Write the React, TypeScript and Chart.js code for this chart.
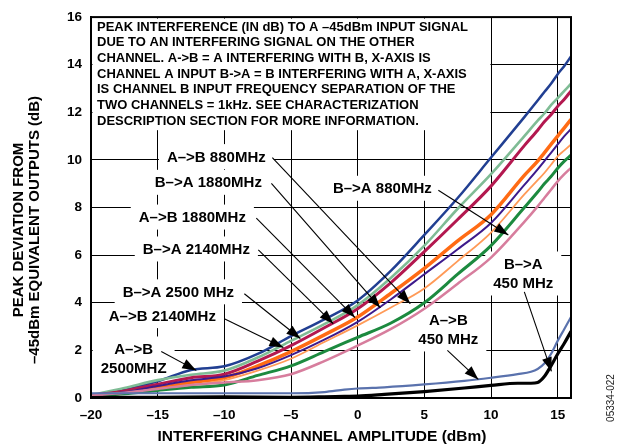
import { useEffect, useRef } from 'react';
import { Chart, registerables } from 'chart.js';

Chart.register(...registerables);

// ---------- data ----------
const amplitudes = [-20, -17.5, -15, -12.5, -10, -7.5, -5, -2.5, 0, 2.5, 5, 7.5, 10, 12.5, 13.5, 14, 14.5, 15, 15.5, 16];

const aToB2500 = [0.1, 0.35, 0.7, 1.18, 1.33, 1.85, 2.6, 3.3, 4.1, 5.35, 6.85, 8.4, 10.1, 11.8, 12.5, 12.85, 13.2, 13.6, 13.95, 14.35];
const bToA2500 = [0.12, 0.42, 0.75, 0.98, 1.15, 1.7, 2.4, 3.1, 3.9, 5.05, 6.4, 7.95, 9.4, 11.0, 11.65, 11.95, 12.3, 12.6, 12.9, 13.2];
const aToB2140 = [0.1, 0.3, 0.58, 0.85, 1.0, 1.55, 2.2, 2.95, 3.75, 4.85, 6.15, 7.5, 8.9, 10.6, 11.25, 11.6, 11.9, 12.25, 12.55, 12.9];
const bToA2140 = [0.08, 0.22, 0.42, 0.65, 0.85, 1.35, 1.95, 2.65, 3.4, 4.4, 5.45, 6.6, 7.7, 9.35, 9.95, 10.3, 10.65, 11.0, 11.35, 11.7];
const aToB1880 = [0.1, 0.25, 0.5, 0.75, 0.9, 1.25, 1.8, 2.45, 3.2, 4.15, 5.2, 6.25, 7.35, 8.95, 9.6, 9.95, 10.3, 10.65, 11.0, 11.3];
const aToB880 = [0.08, 0.2, 0.38, 0.55, 0.75, 1.15, 1.65, 2.35, 3.05, 3.8, 4.6, 5.75, 6.95, 8.55, 9.15, 9.45, 9.8, 10.15, 10.4, 10.65];
const bToA1880 = [0.08, 0.18, 0.32, 0.45, 0.55, 0.95, 1.35, 1.95, 2.55, 3.15, 4.0, 5.2, 6.4, 8.0, 8.65, 9.0, 9.3, 9.65, 9.95, 10.2];
const bToA880 = [0.1, 0.22, 0.38, 0.55, 0.65, 0.75, 1.0, 1.55, 2.2, 2.9, 3.75, 4.8, 5.9, 7.4, 8.05, 8.4, 8.75, 9.1, 9.4, 9.67];

const amplitudes450 = [-20, -15, -10, -5, -2.5, -1, 0, 2, 5, 8, 10, 12, 13, 13.5, 14, 14.5, 15, 15.5, 16];
const bToA450 = [0.2, 0.2, 0.2, 0.2, 0.25, 0.35, 0.4, 0.45, 0.57, 0.72, 0.85, 1.0, 1.1, 1.22, 1.45, 1.85, 2.4, 2.9, 3.4];
const aToB450 = [0.02, 0.03, 0.05, 0.03, 0.05, 0.07, 0.08, 0.15, 0.27, 0.42, 0.53, 0.62, 0.62, 0.65, 0.9, 1.35, 1.85, 2.3, 2.8];

const xTicks = [-20, -15, -10, -5, 0, 5, 10, 15];
const yTicks = [0, 2, 4, 6, 8, 10, 12, 14, 16];

const xTitle = 'INTERFERING CHANNEL AMPLITUDE (dBm)';
const yTitleLines = ['PEAK DEVIATION FROM', '\u201345dBm EQUIVALENT OUTPUTS (dB)'];
const noteLines = [
  'PEAK INTERFERENCE (IN dB) TO A \u201345dBm INPUT SIGNAL',
  'DUE TO AN INTERFERING SIGNAL ON THE OTHER',
  'CHANNEL. A->B = A INTERFERING WITH B, X-AXIS IS',
  'CHANNEL A INPUT B->A = B INTERFERING WITH A, X-AXIS',
  'IS CHANNEL B INPUT FREQUENCY SEPARATION OF THE',
  'TWO CHANNELS = 1kHz. SEE CHARACTERIZATION',
  'DESCRIPTION SECTION FOR MORE INFORMATION.',
];
const figureId = '05334-022';

// annotation labels (data coordinates)
const annotations = [
  { lines: ['A\u2013>B 880MHz'], x: -10.6, y: 10.14, from: [-6.4, 10.1], to: [3.95, 3.96] },
  { lines: ['B\u2013>A 1880MHz'], x: -11.2, y: 9.06, from: [-6.47, 9.02], to: [1.7, 3.79] },
  { lines: ['A\u2013>B 1880MHz'], x: -12.4, y: 7.6, from: [-7.6, 7.56], to: [-0.2, 3.38] },
  { lines: ['B\u2013>A 2140MHz'], x: -12.1, y: 6.26, from: [-7.45, 6.22], to: [-1.83, 3.12] },
  { lines: ['B\u2013>A 2500 MHz'], x: -13.45, y: 4.46, from: [-8.5, 4.38], to: [-4.3, 2.5] },
  { lines: ['A\u2013>B 2140MHz'], x: -14.65, y: 3.46, from: [-10.0, 3.33], to: [-5.57, 2.12] },
  { lines: ['A\u2013>B', '2500MHZ'], x: -16.8, y: 1.66, from: [-14.73, 1.95], to: [-12.1, 1.16] },
  { lines: ['B\u2013>A 880MHz'], x: 1.85, y: 8.81, from: [6.05, 8.73], to: [11.3, 6.85] },
  { lines: ['B\u2013>A', '450 MHz'], x: 12.42, y: 5.23, from: [12.5, 4.46], to: [14.53, 1.12] },
  { lines: ['A\u2013>B', '450 MHz'], x: 6.8, y: 2.88, from: [6.73, 2.0], to: [9.05, 0.78] },
];

const FONT = '"Liberation Sans", Arial, Helvetica, sans-serif';

const pts = (xs: number[], ys: number[]) => xs.map((x, i) => ({ x, y: ys[i] }));

function drawArrow(ctx: CanvasRenderingContext2D, x1: number, y1: number, x2: number, y2: number) {
  ctx.beginPath();
  ctx.moveTo(x1, y1);
  ctx.lineTo(x2, y2);
  ctx.stroke();
  const a = Math.atan2(y2 - y1, x2 - x1);
  const L = 14, W = 5;
  const c = Math.cos(a), s = Math.sin(a);
  ctx.beginPath();
  ctx.moveTo(x2, y2);
  ctx.lineTo(x2 - L * c + W * s, y2 - L * s - W * c);
  ctx.lineTo(x2 - L * c - W * s, y2 - L * s + W * c);
  ctx.closePath();
  ctx.fill();
}

const LABEL_FONT = `bold 15px ${FONT}`;
const LINE_GAP = 19;

const decorPlugin = {
  id: 'decor',
  beforeDatasetsDraw(chart: any) {
    const { ctx, chartArea, scales } = chart;
    const x = scales.x, y = scales.y;
    ctx.save();
    ctx.fillStyle = '#ffffff';
    // note box
    const bx = chartArea.left + 1.5;
    const by = chartArea.top + 1.5;
    ctx.fillRect(bx, by, x.getPixelForValue(10) - 0.6 - bx, y.getPixelForValue(11.25) - by);
    // label boxes
    ctx.font = LABEL_FONT;
    for (const a of annotations) {
      const cx = x.getPixelForValue(a.x);
      const cy = y.getPixelForValue(a.y);
      const w = Math.max(...a.lines.map((l) => ctx.measureText(l).width));
      const h = a.lines.length * LINE_GAP;
      ctx.fillRect(cx - w / 2 - 8, cy - h / 2 - 3, w + 16, h + 6);
    }
    ctx.restore();
  },
  afterDatasetsDraw(chart: any) {
    const { ctx, chartArea, scales } = chart;
    const x = scales.x, y = scales.y;
    ctx.save();
    // border
    ctx.strokeStyle = '#000';
    ctx.lineWidth = 2;
    ctx.strokeRect(chartArea.left, chartArea.top, chartArea.right - chartArea.left, chartArea.bottom - chartArea.top);
    // note text
    ctx.fillStyle = '#000';
    ctx.font = `bold 13px ${FONT}`;
    ctx.textAlign = 'left';
    ctx.textBaseline = 'middle';
    noteLines.forEach((l, i) => {
      ctx.fillText(l, chartArea.left + 6, chartArea.top + 10 + i * 15.67);
    });
    // labels + arrows
    ctx.font = LABEL_FONT;
    ctx.textAlign = 'center';
    ctx.strokeStyle = '#000';
    ctx.lineWidth = 1.1;
    for (const a of annotations) {
      const cx = x.getPixelForValue(a.x);
      const cy = y.getPixelForValue(a.y);
      const n = a.lines.length;
      a.lines.forEach((l, i) => {
        ctx.fillText(l, cx, cy + (i - (n - 1) / 2) * LINE_GAP + 1);
      });
      drawArrow(
        ctx,
        x.getPixelForValue(a.from[0]), y.getPixelForValue(a.from[1]),
        x.getPixelForValue(a.to[0]), y.getPixelForValue(a.to[1])
      );
    }
    // axis titles
    ctx.font = `bold 15.5px ${FONT}`;
    ctx.textAlign = 'center';
    ctx.fillText(xTitle, 322, 437);
    ctx.font = `bold 15px ${FONT}`;
    yTitleLines.forEach((l, i) => {
      ctx.save();
      ctx.translate(19 + i * 15.5, 230);
      ctx.rotate(-Math.PI / 2);
      ctx.fillText(l, 0, 0);
      ctx.restore();
    });
    // figure id
    ctx.font = `10px ${FONT}`;
    ctx.fillStyle = '#222';
    ctx.save();
    ctx.translate(611, 398);
    ctx.rotate(-Math.PI / 2);
    ctx.fillText(figureId, 0, 0);
    ctx.restore();
    ctx.restore();
  },
};

export default function App() {
  const ref = useRef<HTMLCanvasElement>(null);

  useEffect(() => {
    if (!ref.current) return;
    const line = (label: string, xs: number[], ys: number[], color: string, width: number) => ({
      label,
      data: pts(xs, ys),
      borderColor: color,
      backgroundColor: color,
      borderWidth: width,
      pointRadius: 0,
      cubicInterpolationMode: 'monotone' as const,
      fill: false,
    });
    const chart = new Chart(ref.current, {
      type: 'line',
      data: {
        datasets: [
          line('A->B 450 MHz', amplitudes450, aToB450, '#000000', 3.2),
          line('B->A 450 MHz', amplitudes450, bToA450, '#5a72ad', 2.2),
          line('B->A 880MHz', amplitudes, bToA880, '#d77d9d', 2.5),
          line('B->A 1880MHz', amplitudes, bToA1880, '#1c8a3f', 3),
          line('A->B 880MHz', amplitudes, aToB880, '#ff9a57', 1.8),
          line('A->B 1880MHz', amplitudes, aToB1880, '#3d1a8c', 2),
          line('B->A 2140MHz', amplitudes, bToA2140, '#ff6b14', 3.5),
          line('A->B 2140MHz', amplitudes, aToB2140, '#b3184f', 3),
          line('B->A 2500 MHz', amplitudes, bToA2500, '#7fbc95', 2.6),
          line('A->B 2500MHZ', amplitudes, aToB2500, '#213f92', 2.5),
        ],
      },
      options: {
        responsive: false,
        animation: false,
        devicePixelRatio: 1,
        layout: { padding: { top: 16, right: 52, left: 0, bottom: 0 } },
        plugins: { legend: { display: false }, tooltip: { enabled: false }, title: { display: false } },
        scales: {
          x: {
            type: 'linear',
            min: -20,
            max: 16,
            afterBuildTicks: (s: any) => { s.ticks = xTicks.map((v) => ({ value: v })); },
            afterFit: (s: any) => { s.height = 48; },
            ticks: {
              color: '#000',
              font: { family: FONT, size: 13.5, weight: 'bold' },
              padding: 9,
              maxRotation: 0,
              autoSkip: false,
              callback: (v: any) => String(v).replace('-', '\u2013'),
            },
            grid: { color: '#000', lineWidth: 1, drawTicks: false },
            border: { color: '#000', width: 2 },
          },
          y: {
            type: 'linear',
            min: 0,
            max: 16,
            afterBuildTicks: (s: any) => { s.ticks = yTicks.map((v) => ({ value: v })); },
            afterFit: (s: any) => { s.width = 91; },
            ticks: {
              color: '#000',
              font: { family: FONT, size: 13.5, weight: 'bold' },
              padding: 9,
              autoSkip: false,
            },
            grid: { color: '#000', lineWidth: 1, drawTicks: false },
            border: { color: '#000', width: 2 },
          },
        },
      },
      plugins: [decorPlugin],
    });
    return () => chart.destroy();
  }, []);

  return (
    <div style={{ position: 'fixed', left: 0, top: 0, width: 623, height: 446, background: '#fff' }}>
      <canvas ref={ref} width={623} height={446} style={{ display: 'block', width: 623, height: 446 }} />
    </div>
  );
}
